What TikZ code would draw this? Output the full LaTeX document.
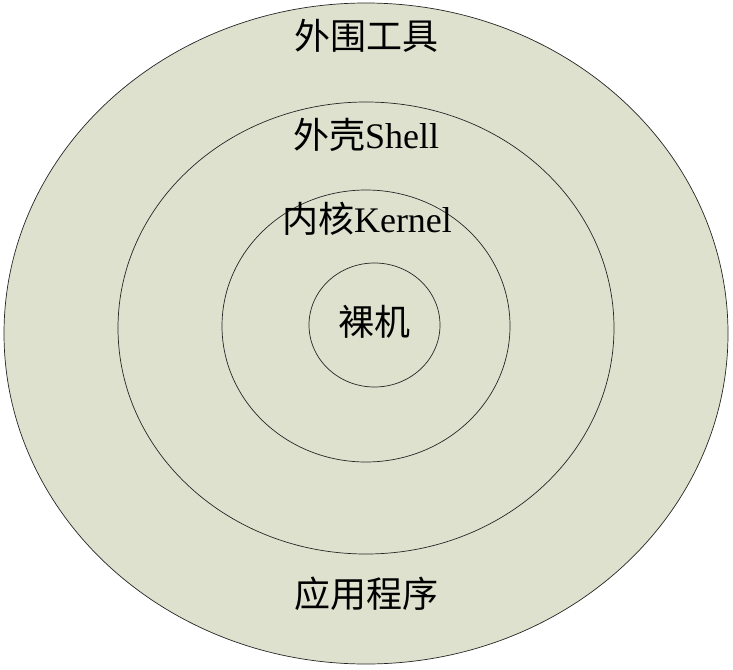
\documentclass[tikz,border=0pt]{standalone}
\usepackage{fontspec}
\setmainfont{Liberation Serif}
\newfontfamily\cjk{Noto Sans CJK SC}
\usepackage{xcolor}
\usepackage{tikz}
\usetikzlibrary{positioning,shapes.geometric}
\definecolor{ringfill}{RGB}{221,225,205}

\begin{document}
\begin{tikzpicture}[
      x=1pt, y=-1pt,
      ring/.style={ellipse, draw=black!85, line width=0.7pt, inner sep=0pt, outer sep=0pt},
      layertext/.style={anchor=base, inner sep=0pt, font=\fontsize{36}{40}\selectfont}
  ]
  \useasboundingbox (0,0) rectangle (733,669);

  % Rings
  \node (outerring) [ring, fill=ringfill, minimum width=724pt, minimum height=661pt] at (366,333.5) {};
  \node (shellring) [ring, minimum width=496pt, minimum height=452pt] at (366,328) {};
  \node (kernelring) [ring, minimum width=288pt, minimum height=272pt] at (366,326) {};
  \node (barering) [ring, minimum width=131pt, minimum height=124pt] at (374.5,325) {};

  % Texts
  \node (tools) [layertext] at (366,50) {{\cjk 外围工具}};
  \node (shell) [layertext] at (366,148) {{\cjk 外壳}Shell};
  \node (kernel) [layertext] at (367,232) {{\cjk 内核}Kernel};
  \node (bare) [layertext] at (374,335) {{\cjk 裸机}};
  \node (apps) [layertext] at (366,607) {{\cjk 应用程序}};

  \end{tikzpicture}
\end{document}
